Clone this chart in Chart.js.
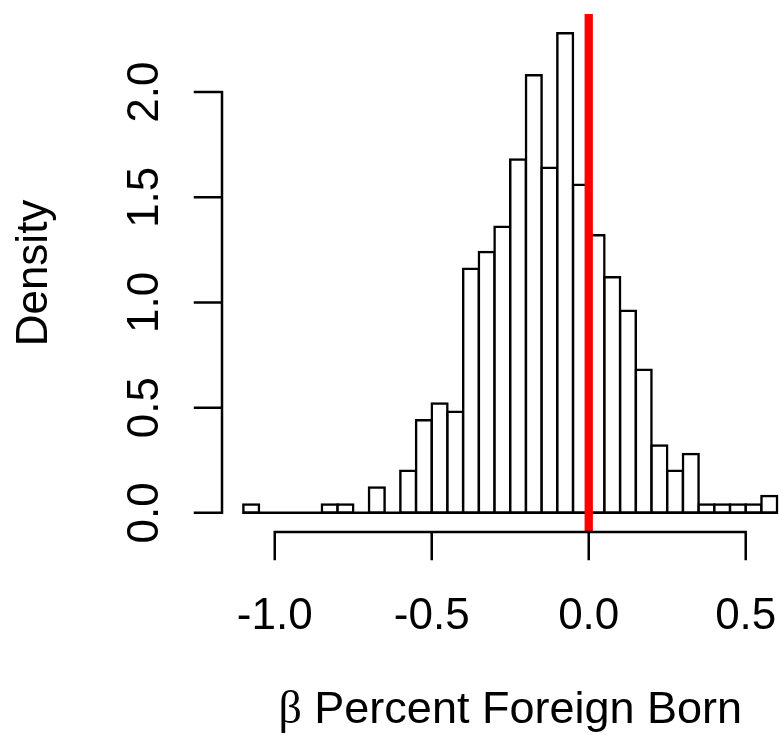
<!DOCTYPE html>
<html>
<head>
<meta charset="utf-8">
<script src="https://cdn.jsdelivr.net/npm/chart.js@4.4.1/dist/chart.umd.min.js"></script>
<style>
  html, body { margin: 0; padding: 0; background: #fff; }
  canvas { display: block; }
</style>
</head>
<body>
<canvas id="histChart" width="779" height="735"></canvas>
<script>
// histogram bins (left edges, width 0.05) and their density
const binWidth = 0.05;
const binLefts = [
  -1.10, -1.05, -1.00, -0.95, -0.90, -0.85, -0.80, -0.75, -0.70, -0.65,
  -0.60, -0.55, -0.50, -0.45, -0.40, -0.35, -0.30, -0.25, -0.20, -0.15,
  -0.10, -0.05, 0.00, 0.05, 0.10, 0.15, 0.20, 0.25, 0.30, 0.35,
  0.40, 0.45, 0.50, 0.55
];
const density = [
  0.04, 0, 0, 0, 0, 0.04, 0.04, 0, 0.12, 0,
  0.20, 0.44, 0.52, 0.48, 1.16, 1.24, 1.36, 1.68, 2.08, 1.64,
  2.28, 1.56, 1.32, 1.12, 0.96, 0.68, 0.32, 0.20, 0.28, 0.04,
  0.04, 0.04, 0.04, 0.08
];
const xTicks = [-1.0, -0.5, 0.0, 0.5];
const yTicks = [0.0, 0.5, 1.0, 1.5, 2.0];
const refLine = 0;   // red vertical line
const xTitle = "Percent Foreign Born";
const yTitle = "Density";

const FONT = '"Liberation Sans", Arial, Helvetica, sans-serif';
const LABEL_FONT = "44px " + FONT;
const TITLE_FONT = "45px " + FONT;

// ── R-style axes, labels and the red reference line ─────────────
const rAxes = {
  id: "rAxes",
  afterDatasetsDraw(chart) {
    const { ctx, chartArea: a, scales: { x, y } } = chart;
    ctx.save();

    // abline(v = 0)
    const rx = x.getPixelForValue(refLine);
    ctx.strokeStyle = "#ff0000";
    ctx.lineWidth = 8.3;
    ctx.lineCap = "butt";
    ctx.beginPath();
    ctx.moveTo(rx, a.top);
    ctx.lineTo(rx, a.bottom);
    ctx.stroke();

    ctx.strokeStyle = "#000";
    ctx.fillStyle = "#000";
    ctx.lineWidth = 2.5;
    ctx.lineCap = "square";
    const tick = 27;

    // y axis
    ctx.beginPath();
    ctx.moveTo(a.left, y.getPixelForValue(yTicks[0]));
    ctx.lineTo(a.left, y.getPixelForValue(yTicks[yTicks.length - 1]));
    yTicks.forEach(v => {
      const py = y.getPixelForValue(v);
      ctx.moveTo(a.left, py);
      ctx.lineTo(a.left - tick, py);
    });
    ctx.stroke();

    // x axis
    ctx.beginPath();
    ctx.moveTo(x.getPixelForValue(xTicks[0]), a.bottom);
    ctx.lineTo(x.getPixelForValue(xTicks[xTicks.length - 1]), a.bottom);
    xTicks.forEach(v => {
      const px = x.getPixelForValue(v);
      ctx.moveTo(px, a.bottom);
      ctx.lineTo(px, a.bottom + tick);
    });
    ctx.stroke();

    ctx.font = LABEL_FONT;
    ctx.textAlign = "center";
    ctx.textBaseline = "alphabetic";

    // x tick labels
    xTicks.forEach(v => {
      ctx.fillText(v.toFixed(1), x.getPixelForValue(v), a.bottom + 97);
    });

    // y tick labels (rotated)
    yTicks.forEach(v => {
      ctx.save();
      ctx.translate(a.left - 64, y.getPixelForValue(v));
      ctx.rotate(-Math.PI / 2);
      ctx.fillText(v.toFixed(1), 0, 0);
      ctx.restore();
    });

    // y title
    ctx.save();
    ctx.translate(47, (a.top + a.bottom) / 2);
    ctx.rotate(-Math.PI / 2);
    ctx.fillText(yTitle, 0, 0);
    ctx.restore();

    // x title: serif beta + sans text, centred on the plot region
    const midX = x.getPixelForValue((x.min + 0.668) / 2);
    ctx.textAlign = "left";
    const betaFont = "46px \"Liberation Serif\", \"DejaVu Serif\", serif";
    ctx.font = betaFont;
    const wb = ctx.measureText("\u03B2").width;
    ctx.font = TITLE_FONT;
    const rest = " " + xTitle;
    const wr = ctx.measureText(rest).width;
    const x0 = midX - (wb + wr) / 2;
    ctx.font = betaFont;
    ctx.fillText("\u03B2", x0, 723);
    ctx.font = TITLE_FONT;
    ctx.fillText(rest, x0 + wb, 723);

    ctx.restore();
  }
};

const bars = binLefts.map((l, i) => ({ x: l + binWidth / 2, y: density[i] }));
const baseline = [
  { x: binLefts[0], y: 0 },
  { x: binLefts[binLefts.length - 1] + binWidth, y: 0 }
];

new Chart(document.getElementById("histChart"), {
  type: "bar",
  data: {
    datasets: [
      {
        type: "line",
        data: baseline,
        borderColor: "#000",
        borderWidth: 2.5,
        pointRadius: 0,
        order: 0
      },
      {
        data: bars,
        backgroundColor: "#fff",
        borderColor: "#000",
        borderWidth: 2.5,
        borderSkipped: false,
        inflateAmount: 1.25,
        barPercentage: 1,
        categoryPercentage: 1,
        order: 1
      }
    ]
  },
  options: {
    responsive: false,
    animation: false,
    devicePixelRatio: 1,
    layout: { padding: { left: 222, right: 0, top: 14, bottom: 203 } },
    plugins: { legend: { display: false }, tooltip: { enabled: false } },
    scales: {
      x: { type: "linear", min: -1.168, max: 0.606, offset: false, display: false },
      y: { type: "linear", min: -0.0912, max: 2.3712, display: false }
    }
  },
  plugins: [rAxes]
});
</script>
</body>
</html>
